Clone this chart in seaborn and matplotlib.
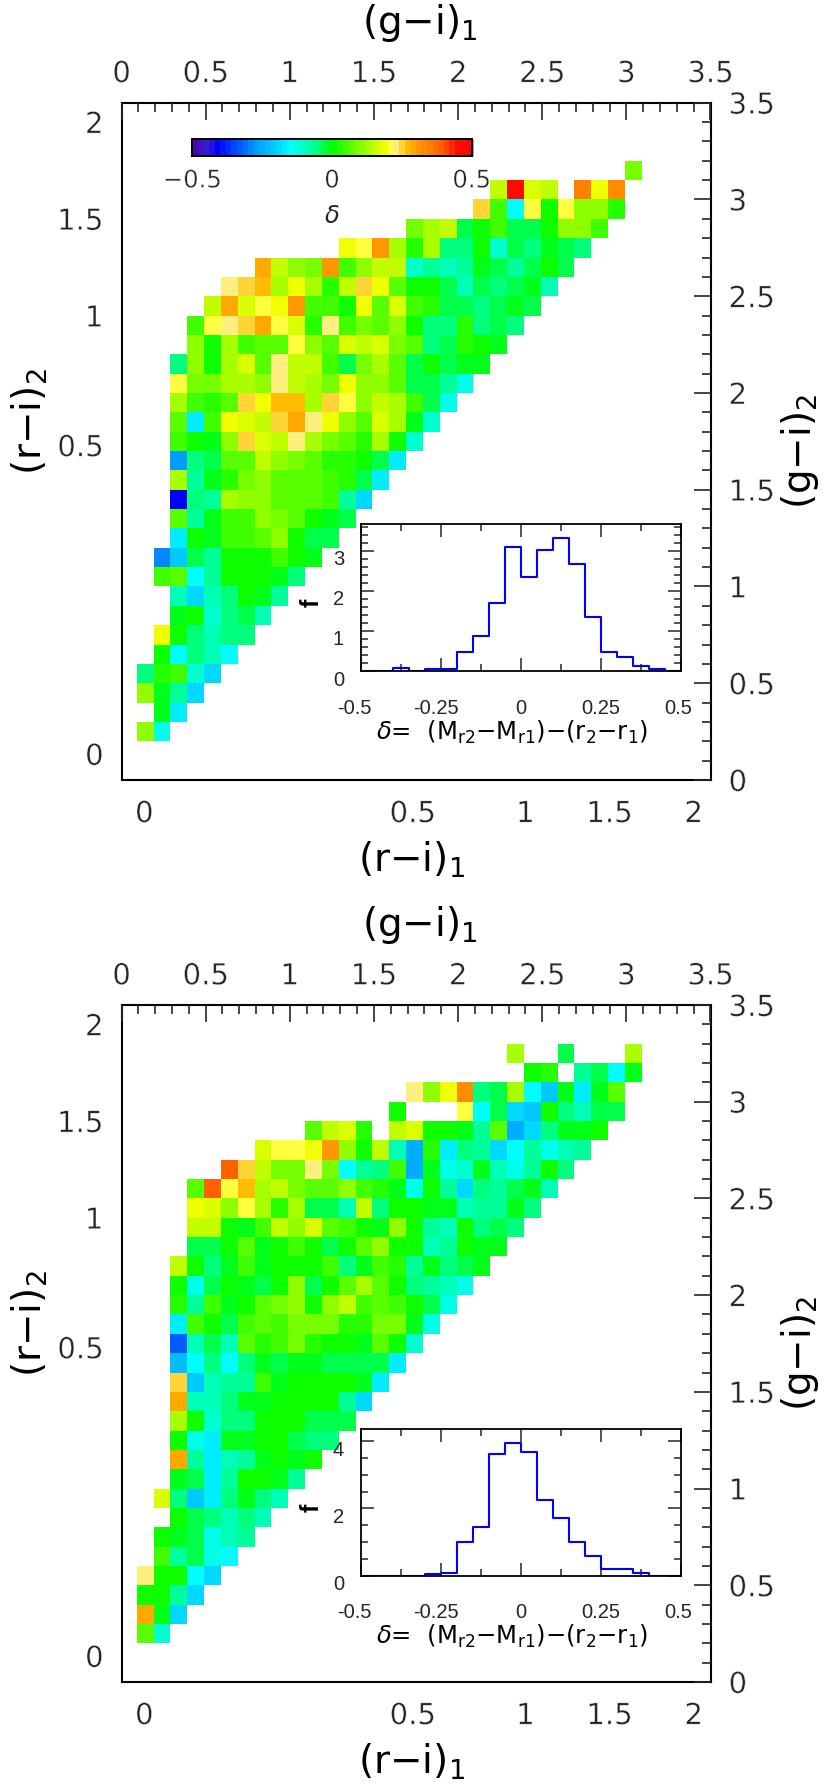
import numpy as np
import seaborn as sns
import matplotlib
matplotlib.use('Agg')
import matplotlib.pyplot as plt
import matplotlib.patheffects as pe
from matplotlib.colors import LinearSegmentedColormap, ListedColormap
from matplotlib.ticker import FixedLocator
from matplotlib.transforms import ScaledTranslation

sns.set_style('white')
plt.rcParams['font.family'] = ['DejaVu Sans']
plt.rcParams['mathtext.default'] = 'regular'

nan = float('nan')

W, H = 831, 1785

# r-i tick values and where they fall on the (linear) g-i scale
ri_ticks = [0, .1, .2, .3, .4, .5, .6, .7, .8, .9, 1, 1.1, 1.2, 1.3, 1.4, 1.5, 1.6, 1.7, 1.8, 1.9, 2]
ri_on_gi = [.135, .47, .80, 1.135, 1.47, 1.73, 1.92, 2.10, 2.20, 2.30, 2.40, 2.50, 2.60, 2.70, 2.80, 2.90, 3.0, 3.10, 3.20, 3.30, 3.40]
ri_major = [0, .5, 1, 1.5, 2]
ri_major_labels = ['0', '0.5', '1', '1.5', '2']
gi_major = [0, .5, 1, 1.5, 2, 2.5, 3, 3.5]
gi_major_labels = ['0', '0.5', '1', '1.5', '2', '2.5', '3', '3.5']
gi_minor = [i / 10 for i in range(36)]

# delta per cell: one list per g-i row, first_col says where the list starts
top_rows = list(range(2, 32))
top_first_col = [1, 2, 1, 1, 2, 2, 3, 3, 2, 2, 3, 3, 3, 3, 3, 3, 3, 3, 3, 3, 4, 4, 5, 6, 8, 13, 17, 21, 22, 30]
top_delta = [
    [.1, -.13],
    [-.01, -.17],
    [.11, -.01, -.08, -.2],
    [-.06, .02, .04, -.12, -.2],
    [0, -.15, -.05, -.1, -.15],
    [.19, .015, -.05, -.1, -.06, -.05],
    [-.02, .015, -.12, -.06, -.03, -.09],
    [-.09, -.19, -.09, -.05, 0, -.02, -.08],
    [.04, .06, -.15, -.08, 0, .01, .005, -.015, -.06],
    [-.3, -.22, -.04, -.08, 0, .005, .015, .04, .005, -.015],
    [-.17, .015, -.02, .04, .05, .07, .1, .015, -.04, -.04],
    [.06, -.07, -.02, .04, .04, .1, .09, .06, 0, -.02, -.04],
    [-.4, -.05, -.07, .13, .1, .11, .07, .06, .06, .05, -.08, -.19],
    [.12, -.08, -.02, .03, .09, .11, .08, .08, .06, .05, .02, -.03, -.17],
    [-.27, -.06, -.03, .07, .07, .14, .11, .09, .08, .03, .02, .01, -.03, -.17],
    [.05, 0, -.01, .11, .25, .17, .14, .22, .12, .09, .075, .03, .12, .01, -.12],
    [.07, -.18, .04, .19, .17, .14, .25, .28, .22, .19, .1, .08, .16, .12, -.02, -.12],
    [.13, .05, .02, .07, .25, .19, .26, .26, .13, .25, .21, .11, .14, .12, .04, -.03, -.13],
    [.21, .09, .09, .125, .125, .11, .22, .14, .13, .09, .19, .11, .11, .06, -.03, -.04, -.08, -.13],
    [-.06, .1, .01, .13, .16, .06, .22, .15, .15, .05, -.03, .09, .13, .08, -.03, 0, -.04, -.02, -.02],
    [.1, .015, .13, .04, .08, .08, .21, .11, .08, .16, .14, .17, .09, .08, -.05, -.03, .02, 0, -.02],
    [.04, .21, .22, .25, .29, .21, .17, .02, .22, .04, .09, .08, .11, .01, -.05, -.05, .02, -.05, -.03, -.05],
    [.14, .28, .16, .21, .19, .3, .05, .05, 0, .19, .06, .17, .04, .02, -.035, -.04, -.06, -.03, -.02, -.04],
    [.22, .25, .27, .125, .19, .125, .025, .14, .25, .19, .06, 0, .01, -.03, -.1, -.025, -.06, -.03, -.02, -.09],
    [.29, .15, .1, .09, .3, .05, .1, .14, .14, -.12, -.08, -.09, -.08, -.01, -.03, -.08, -.035, .015, -.035],
    [.19, .21, .31, .125, .025, .125, -.06, -.05, 0, -.11, -.04, -.06, -.02, -.025, -.05],
    [.09, .125, .14, -.025, 0, .04, -.03, -.025, .015, .1, .1, .05],
    [.25, .05, -.15, .21, .015, .21, .1, .1, .025],
    [.15, .47, .16, .15, nan, .35, .19, .32],
    [.09],
]

bottom_rows = list(range(2, 33))
bottom_first_col = [1, 1, 1, 1, 2, 2, 3, 2, 3, 3, 3, 3, 3, 3, 3, 3, 3, 3, 3, 3, 4, 4, 4, 4, 6, 8, 11, 16, 17, 24, 23]
bottom_delta = [
    [.06, -.12],
    [.28, -.01, -.19],
    [0, 0, -.07, -.2],
    [.22, .01, .01, -.15, -.2],
    [.05, -.08, -.04, -.14, -.16],
    [0, -.01, -.03, -.13, -.1, -.07],
    [0, -.03, -.05, -.1, -.05, -.1],
    [.16, -.05, -.22, -.18, -.05, -.02, -.05, -.1],
    [-.02, -.04, -.17, -.08, 0, 0, -.02, -.07],
    [.28, -.08, -.17, -.1, -.07, -.01, 0, -.01, 0],
    [0, -.13, -.17, -.02, -.01, 0, .015, -.03, -.06, -.06],
    [.12, .01, -.12, -.05, -.06, 0, .01, .01, -.04, -.04, -.03],
    [.28, -.09, -.09, -.05, -.01, -.01, 0, 0, 0, 0, -.08, -.19],
    [.25, -.22, -.09, -.08, -.08, .05, -.02, 0, 0, 0, 0, -.01, -.17],
    [-.23, -.15, -.06, -.15, -.06, -.01, -.03, -.01, -.02, -.03, -.03, -.03, -.04, -.17],
    [-.33, -.1, -.03, -.1, .07, .02, .05, .09, .02, .01, 0, -.02, .08, 0, -.12],
    [-.18, .04, .01, -.04, .04, .07, .05, .09, .09, .09, .02, .02, .09, .09, -.015, -.13],
    [.02, -.07, .04, -.015, .01, .06, .09, .1, 0, .1, .14, .04, .06, .04, 0, -.04, -.14],
    [.015, -.13, -.03, .015, -.01, -.03, .015, .1, -.03, 0, .06, .12, .06, .01, -.06, -.08, -.1, -.13],
    [.14, 0, -.06, -.01, .04, -.02, .015, .015, 0, .04, -.06, -.02, .04, .02, -.07, -.02, -.05, -.04, -.02],
    [-.03, -.03, .01, .06, -.01, 0, .04, .005, -.03, .01, .06, .1, 0, 0, -.1, -.08, .01, -.01, -.02],
    [.14, .14, 0, -.01, .04, .14, .11, .17, .06, .05, 0, -.01, .1, 0, -.07, -.1, 0, -.06, -.04, -.05],
    [.19, .17, .1, .21, .13, .02, .13, -.04, -.04, -.09, .14, -.05, .015, .005, -.015, -.015, -.09, -.08, -.07, -.02, -.06],
    [.07, .39, .21, .26, .12, .14, .09, .08, .07, .1, .04, .02, -.02, -.13, 0, -.08, -.19, -.06, -.08, -.03, -.02, -.1],
    [.39, .25, .14, .09, .09, .22, .09, -.15, -.08, -.05, .05, -.25, -.02, -.13, -.11, -.015, -.1, -.13, -.08, 0, -.05],
    [.16, .21, .21, .19, .31, .11, .01, .14, -.09, -.25, .02, -.18, -.05, -.08, -.2, -.15, -.08, -.13, -.1, -.08],
    [.07, .15, .16, .02, nan, .14, .16, 0, 0, -.02, -.07, .06, -.25, -.19, -.05, -.01, -.015, .005],
    [.01, nan, nan, nan, .21, -.16, -.03, -.19, -.22, 0, -.06, -.09, -.03, -.04],
    [.22, .1, .19, .32, -.05, -.04, .12, -.15, -.22, -.015, -.17, -.02, .06],
    [0, .02, nan, -.08, -.04, -.16, -.015],
    [.12, nan, nan, -.04, nan, nan, nan, .12],
]

# histograms of delta
hist_edges = [-.5, -.45, -.4, -.35, -.3, -.25, -.2, -.15, -.1, -.05, 0, .05, .1, .15, .2, .25, .3, .35, .4, .45, .5]
top_hist = [0, 0, .07, 0, .06, .06, .465, .87, 1.69, 3.1, 2.34, 3.03, 3.32, 2.68, 1.34, .465, .36, .125, .06, 0]
bottom_hist = [0, 0, 0, 0, .05, .09, 1.01, 1.44, 3.63, 3.95, 3.69, 2.25, 1.71, 1.0, .58, .21, .21, .09, 0, 0]

# colour scale
cmap_values = [-.5, -.45, -.41, -.3, -.27, -.2, -.15, -.1, -.05, 0, .1, .15, .19, .21, .23, .25, .27, .3, .35, .39, .45, .5]
cmap_colors = ['#5000a8', '#3020d0', '#0000ff', '#0080ff', '#00a0ff', '#00d0ff', '#00ffff', '#00ffc0', '#00ff80', '#00ff00',
               '#80ff00', '#c0ff00', '#f0ff00', '#ffff40', '#ffee80', '#ffd840', '#ffc000', '#ffa000', '#ff8000', '#ff6000',
               '#ff1000', '#ff0000']
smooth = LinearSegmentedColormap.from_list('delta', [((v + .5), c) for v, c in zip(cmap_values, cmap_colors)])
delta_cmap = ListedColormap(smooth(np.linspace(.01, .99, 50)))
delta_cmap.set_bad('white')

# thins the DejaVu strokes a little, the numbers in the reference are light
thin = [pe.Normal(), pe.PathPatchEffect(edgecolor='white', facecolor='none', linewidth=.3)]


def to_grid(rows, first_col, delta):
    grid = np.full((35, 35), np.nan)
    for j, c, vals in zip(rows, first_col, delta):
        grid[j, c:c + len(vals)] = vals
    return grid


def axes_px(left, top, right, bottom):
    return [left / W, 1 - bottom / H, (right - left) / W, (bottom - top) / H]


def draw_panel(fig, grid, hist, frame_top, frame_bottom, inset_top, inset_bottom, ymax, ymajor, yminor, cbar_ax=None):
    ax = fig.add_axes(axes_px(121.5, frame_top, 710.5, frame_bottom))
    sns.heatmap(grid, ax=ax, cmap=delta_cmap, vmin=-.5, vmax=.5, xticklabels=False, yticklabels=False,
                cbar=cbar_ax is not None, cbar_ax=cbar_ax,
                cbar_kws={'orientation': 'horizontal'} if cbar_ax is not None else None)
    dx = .09
    ax.set_xlim(dx, 35 + dx)
    ax.set_ylim(0, 35)
    for s in ax.spines.values():
        s.set_visible(True)
        s.set_linewidth(1.5)
        s.set_color('black')

    ri_pos = dict(zip(ri_ticks, ri_on_gi))
    maj_pos = [ri_pos[t] * 10 for t in ri_major]
    min_pos = [p * 10 for p in ri_on_gi]
    ax.xaxis.set_major_locator(FixedLocator([m + dx for m in maj_pos]))
    ax.xaxis.set_minor_locator(FixedLocator([m + dx for m in min_pos]))
    ax.set_xticklabels(ri_major_labels, fontsize=21)
    ax.yaxis.set_major_locator(FixedLocator(maj_pos))
    ax.yaxis.set_minor_locator(FixedLocator(min_pos))
    ax.set_yticklabels(ri_major_labels, fontsize=21)
    ax.xaxis.tick_bottom()
    ax.yaxis.tick_left()
    ax.tick_params(axis='both', which='major', direction='in', length=13, width=1.2, pad=13, left=True, bottom=True)
    ax.tick_params(axis='x', which='major', pad=14.5)
    ax.tick_params(axis='both', which='minor', direction='in', length=6.5, width=1.2, left=True, bottom=True)

    top = ax.twiny()
    top.set_xlim(dx / 10, 3.5 + dx / 10)
    top.xaxis.set_major_locator(FixedLocator([g + dx / 10 for g in gi_major]))
    top.xaxis.set_minor_locator(FixedLocator([g + dx / 10 for g in gi_minor]))
    top.set_xticklabels(gi_major_labels, fontsize=21)
    top.tick_params(axis='x', which='major', direction='in', length=12, width=1.2, pad=10.5, top=True)
    top.tick_params(axis='x', which='minor', direction='in', length=6.5, width=1.2, top=True)

    right = ax.twinx()
    right.set_ylim(0, 3.5)
    right.yaxis.set_major_locator(FixedLocator(gi_major))
    right.yaxis.set_minor_locator(FixedLocator(gi_minor))
    right.set_yticklabels(gi_major_labels, fontsize=21)
    right.tick_params(axis='y', which='major', direction='in', length=12, width=1.2, pad=13, right=True)
    right.tick_params(axis='y', which='minor', direction='in', length=6.5, width=1.2, right=True)
    for tw in (top, right):
        for s in tw.spines.values():
            s.set_visible(False)
    for lbl in ax.get_xticklabels() + ax.get_yticklabels() + top.get_xticklabels() + right.get_yticklabels():
        lbl.set_path_effects(thin)

    # inset histogram
    ins = fig.add_axes(axes_px(360.7, inset_top, 680.7, inset_bottom))
    ins.patch.set_facecolor('white')
    centers = [(a + b) / 2 for a, b in zip(hist_edges[:-1], hist_edges[1:])]
    sns.histplot(x=centers, weights=hist, bins=hist_edges, element='step', fill=False, color='#0000ff',
                 linewidth=1.5, ax=ins)
    ins.set_xlim(-.5, .5)
    ins.set_ylim(0, ymax)
    ins.set_ylabel('')
    ins.set_xticks([-.5, -.25, 0, .25, .5])
    ins.set_xticklabels(['-0.5', '-0.25', '0', '0.25', '0.5'], family='Liberation Sans', fontsize=14.5)
    ins.set_xticks([-.375, -.125, .125, .375], minor=True)
    ins.set_yticks(ymajor)
    ins.set_yticklabels([str(y) for y in ymajor], family='Liberation Sans', fontsize=14.5)
    ins.set_yticks(yminor, minor=True)
    ins.tick_params(which='major', direction='in', length=9.5, width=1.1, top=True, right=True, bottom=True, left=True)
    ins.tick_params(which='minor', direction='in', length=5, width=1.1, top=True, right=True, bottom=True, left=True)
    ins.tick_params(axis='x', pad=20)
    ins.tick_params(axis='y', pad=12)
    for lbl in ins.get_yticklabels():
        lbl.set_transform(lbl.get_transform() + ScaledTranslation(0, -7 / 100, fig.dpi_scale_trans))
    x_nudge = [-6, -5, 0, 0, -3]
    for lbl, n in zip(ins.get_xticklabels(), x_nudge):
        lbl.set_transform(lbl.get_transform() + ScaledTranslation(n / 100, 0, fig.dpi_scale_trans))
    for s in ins.spines.values():
        s.set_visible(True)
        s.set_linewidth(1.3)
        s.set_color('black')
    ins.set_zorder(5)

    # labels placed in picture pixels
    def txt(x, y, s, **kw):
        return fig.text(x / W, 1 - y / H, s, ha='center', va='center', color='black', **kw)

    txt(420, frame_top - 80, '(g$-$i)$_1$', fontsize=28)
    txt(411, frame_bottom + 80, '(r$-$i)$_1$', fontsize=28)
    txt(30, (frame_top + frame_bottom) / 2 - 20, '(r$-$i)$_2$', fontsize=28, rotation=90)
    txt(800, (frame_top + frame_bottom) / 2 + 10, '(g$-$i)$_2$', fontsize=28, rotation=90)
    txt(512, inset_bottom + 61, r'$\mathit{\delta}$=  (M$_{r2}$$-$M$_{r1}$)$-$(r$_2$$-$r$_1$)', fontsize=17.5)
    txt(312, inset_top + 79, 'f', fontsize=18, family='Liberation Sans', rotation=90, fontweight='bold')
    return ax


fig = plt.figure(figsize=(W / 100, H / 100), dpi=100)

cax = fig.add_axes(axes_px(192.3, 139, 471.7, 156))
cax.set_zorder(6)
draw_panel(fig, to_grid(top_rows, top_first_col, top_delta), top_hist, 102.7, 780, 524.3, 671, 3.66,
           [0, 1, 2, 3], [.2 * i for i in range(19)], cbar_ax=cax)
draw_panel(fig, to_grid(bottom_rows, bottom_first_col, bottom_delta), bottom_hist, 1005, 1682, 1429, 1575.7, 4.36,
           [0, 2, 4], [.5 * i for i in range(9)])

# colour bar ticks and text
cax.set_xticks([-.5, 0, .5])
cax.set_xticklabels(['\u22120.5', '0', '0.5'], fontsize=17.5)
cax.set_xticks([-.4, -.3, -.2, -.1, .1, .2, .3, .4], minor=True)
cax.tick_params(axis='x', which='major', direction='in', length=12, width=1, pad=9, top=True, bottom=True,
                color='black', zorder=10)
cax.tick_params(axis='x', which='minor', direction='in', length=3.6, width=1, top=True, bottom=True,
                color='black', zorder=10)
cax.set_xlabel(r'$\mathit{\delta}$', fontsize=17.5, labelpad=8)
for lbl in cax.get_xticklabels():
    lbl.set_path_effects(thin)
for s in cax.spines.values():
    s.set_visible(True)
    s.set_linewidth(1.3)
    s.set_color('black')

fig.savefig('out.png', dpi=100)
